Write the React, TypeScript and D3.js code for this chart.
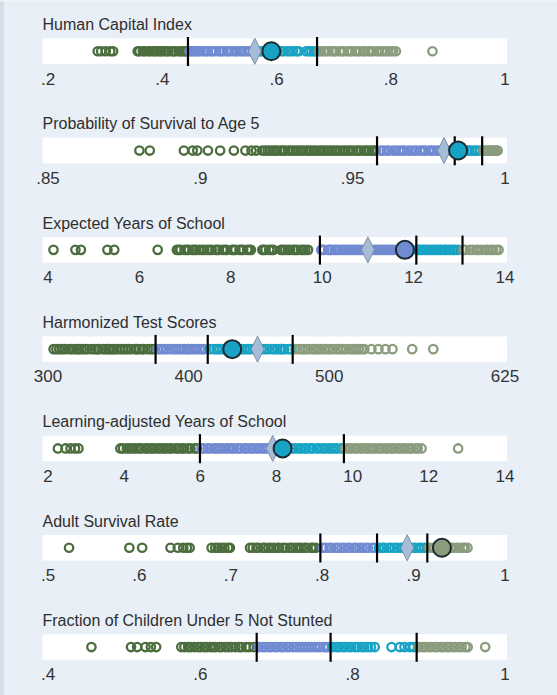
import * as d3 from "d3";

// colour groups: below Q1, Q1-median, median-Q3, above Q3
const GROUP_COLORS = ["#4c6e3e", "#718bd2", "#18a3c4", "#8a9c7d"];

const titles = [
  "Human Capital Index",
  "Probability of Survival to Age 5",
  "Expected Years of School",
  "Harmonized Test Scores",
  "Learning-adjusted Years of School",
  "Adult Survival Rate",
  "Fraction of Children Under 5 Not Stunted",
];

const domains = [
  [0.2, 1],
  [0.85, 1],
  [4, 14],
  [300, 625],
  [2, 14],
  [0.5, 1],
  [0.4, 1],
];

const tickValues = [
  [0.2, 0.4, 0.6, 0.8, 1],
  [0.85, 0.9, 0.95, 1],
  [4, 6, 8, 10, 12, 14],
  [300, 400, 500, 625],
  [2, 4, 6, 8, 10, 12, 14],
  [0.5, 0.6, 0.7, 0.8, 0.9, 1],
  [0.4, 0.6, 0.8, 1],
];

const tickLabels = [
  [".2", ".4", ".6", ".8", "1"],
  [".85", ".9", ".95", "1"],
  ["4", "6", "8", "10", "12", "14"],
  ["300", "400", "500", "625"],
  ["2", "4", "6", "8", "10", "12", "14"],
  [".5", ".6", ".7", ".8", ".9", "1"],
  [".4", ".6", ".8", "1"],
];

const hci = [
  0.287, 0.293, 0.301, 0.309, 0.314,
  0.357, 0.36, 0.366, 0.369, 0.375, 0.378, 0.384, 0.387, 0.391, 0.396, 0.399, 0.404,
  0.408, 0.411, 0.417, 0.42, 0.423, 0.429, 0.432, 0.436, 0.439, 0.442,
  0.448, 0.451, 0.456, 0.459, 0.463, 0.467, 0.473, 0.476, 0.48, 0.486, 0.489, 0.494,
  0.5, 0.503, 0.507, 0.513, 0.516, 0.521, 0.527, 0.53, 0.536, 0.539, 0.544, 0.549, 0.553,
  0.56, 0.564, 0.571, 0.574, 0.579, 0.585, 0.591, 0.596, 0.601, 0.608, 0.612, 0.619,
  0.623, 0.629, 0.635, 0.639, 0.652, 0.657, 0.661, 0.666, 0.669,
  0.674, 0.677, 0.683, 0.686, 0.691, 0.697, 0.7, 0.704, 0.711, 0.714, 0.718, 0.725,
  0.728, 0.732, 0.738, 0.742, 0.746, 0.752, 0.755, 0.761, 0.765, 0.769, 0.776, 0.779,
  0.785, 0.79, 0.794, 0.8, 0.804, 0.809, 0.873,
];

const survival5 = [
  0.88, 0.8834, 0.8946, 0.8975, 0.899, 0.9025, 0.9065, 0.911, 0.9148, 0.9168, 0.9183,
  0.9203, 0.9212, 0.9221, 0.9228, 0.9237, 0.9246, 0.9252, 0.9263, 0.9271, 0.9278,
  0.9289, 0.9296, 0.9305, 0.9314, 0.9322, 0.9331, 0.9338, 0.9349, 0.9356, 0.9364,
  0.9373, 0.9381, 0.9392, 0.9398, 0.9407, 0.9415, 0.9424, 0.9433, 0.9441, 0.9449,
  0.9457, 0.9468, 0.9476, 0.9486, 0.9493, 0.9502, 0.9513, 0.9519, 0.9527, 0.9538,
  0.9546, 0.9553, 0.9562, 0.9569, 0.9575,
  0.9592, 0.9601, 0.9612, 0.9619, 0.9633, 0.9641, 0.9652, 0.9663, 0.9669, 0.9682,
  0.9691, 0.9702, 0.9709, 0.9722, 0.9731, 0.9738, 0.9751, 0.9759, 0.9768, 0.9779,
  0.9787, 0.9796, 0.9806, 0.9813, 0.9824, 0.9831,
  0.9841, 0.9849, 0.9858, 0.9865, 0.9876, 0.9883, 0.9891, 0.99, 0.9907, 0.9918,
  0.9929, 0.9934, 0.9941, 0.9946, 0.9953, 0.9957, 0.9963, 0.9967, 0.9972, 0.9976,
];

const schoolYears = [
  4.12, 4.6, 4.72, 5.3, 5.45, 6.4,
  6.82, 6.86, 6.9, 6.99, 7.04, 7.08, 7.16, 7.2, 7.24, 7.31, 7.37, 7.42, 7.49, 7.54,
  7.58, 7.67, 7.7, 7.74, 7.82, 7.87, 7.91, 8.03, 8.06, 8.1, 8.19, 8.23, 8.27, 8.36,
  8.4, 8.44, 8.69, 8.72, 8.76, 8.84, 8.89, 8.93, 9.1, 9.14, 9.19, 9.25, 9.3, 9.37,
  9.41, 9.46, 9.54, 9.58, 9.63, 9.69,
  9.98, 10.01, 10.04, 10.13, 10.17, 10.2, 10.27, 10.31, 10.36, 10.42, 10.47, 10.51,
  10.57, 10.62, 10.66, 10.72, 10.77, 10.81, 10.87, 10.92, 10.96, 11.02, 11.06, 11.11,
  11.17, 11.22, 11.26, 11.32, 11.36, 11.41, 11.46, 11.5, 11.55, 11.62, 11.66, 11.71,
  12.08, 12.12, 12.16, 12.21, 12.26, 12.3, 12.37, 12.42, 12.46, 12.51, 12.56, 12.6,
  12.67, 12.71, 12.76, 12.81, 12.86, 12.9, 12.97,
  13.09, 13.14, 13.23, 13.29, 13.37, 13.42, 13.49, 13.57, 13.62, 13.69, 13.74, 13.81, 13.86,
];

const testScores = [
  304, 306, 308, 310, 312, 315, 317, 319, 321, 322, 324, 326, 328, 331, 333, 335,
  336, 339, 341, 343, 344, 346, 347, 349, 351, 353, 355, 357, 359, 362, 363, 365,
  367, 368, 371, 373, 375,
  378, 380, 382, 384, 387, 389, 391, 393, 395, 397, 399, 400, 402, 404, 406, 408, 410, 411,
  415, 418, 420, 422, 424, 426, 428, 431, 434, 436, 438, 440, 442, 444, 447, 450,
  452, 454, 456, 459, 461, 463, 465, 466, 468, 471, 473,
  476, 479, 481, 483, 485, 488, 490, 492, 494, 497, 499, 501, 503, 506, 508, 510,
  512, 515, 517, 519, 521, 523, 525, 530, 535, 540, 545, 559, 574,
];

const learningYears = [
  2.26, 2.46, 2.59, 2.71, 2.8,
  3.9, 3.97, 4.07, 4.14, 4.23, 4.3, 4.39, 4.45, 4.56, 4.62, 4.71, 4.77, 4.87, 4.94,
  5.03, 5.1, 5.19, 5.25, 5.36, 5.42, 5.51, 5.57, 5.67, 5.74, 5.85, 5.91,
  6.03, 6.09, 6.19, 6.25, 6.36, 6.42, 6.51, 6.57, 6.67, 6.74, 6.83, 6.89, 6.99, 7.05,
  7.16, 7.21, 7.31, 7.37, 7.47, 7.54, 7.63, 7.69, 7.78,
  8.1, 8.21, 8.29, 8.4, 8.47, 8.57, 8.64, 8.73, 8.79, 8.89, 8.95, 9.06, 9.11, 9.21,
  9.27, 9.37, 9.44, 9.53, 9.59, 9.7,
  9.8, 9.89, 9.95, 10.06, 10.11, 10.21, 10.27, 10.37, 10.44, 10.53, 10.59, 10.69,
  10.75, 10.86, 10.91, 11.01, 11.07, 11.17, 11.24, 11.33, 11.39, 11.49, 11.55,
  11.66, 11.71, 11.81, 12.77,
];

const adultSurvival = [
  0.523, 0.589, 0.603, 0.634, 0.642, 0.648, 0.652, 0.655, 0.679, 0.683, 0.686,
  0.69, 0.693, 0.697, 0.699,
  0.721, 0.724, 0.728, 0.73, 0.735, 0.737, 0.741, 0.744, 0.747, 0.751, 0.753,
  0.757, 0.76, 0.765, 0.767, 0.771, 0.774, 0.777, 0.781, 0.783, 0.788, 0.79, 0.793,
  0.801, 0.804, 0.808, 0.81, 0.815, 0.817, 0.821, 0.824, 0.828, 0.83, 0.835, 0.837,
  0.841, 0.844, 0.848, 0.85, 0.855, 0.857,
  0.862, 0.866, 0.868, 0.873, 0.875, 0.879, 0.882, 0.886, 0.888, 0.893, 0.895,
  0.899, 0.902, 0.906, 0.908, 0.912,
  0.917, 0.921, 0.923, 0.927, 0.93, 0.934, 0.936, 0.941, 0.943, 0.947, 0.95,
  0.954, 0.956, 0.959,
];

const notStunted = [
  0.457, 0.509, 0.517, 0.528, 0.535, 0.542,
  0.575, 0.579, 0.584, 0.587, 0.592, 0.597, 0.6, 0.605, 0.608, 0.613, 0.617, 0.62,
  0.625, 0.628, 0.633, 0.637, 0.641, 0.646, 0.651, 0.654, 0.66, 0.664, 0.67,
  0.677, 0.682, 0.685, 0.69, 0.693, 0.698, 0.701, 0.706, 0.709, 0.714, 0.717,
  0.722, 0.726, 0.73, 0.734, 0.738, 0.742, 0.746, 0.75, 0.754, 0.757, 0.762, 0.765,
  0.768,
  0.774, 0.779, 0.782, 0.787, 0.79, 0.795, 0.798, 0.803, 0.807, 0.812, 0.815,
  0.82, 0.824, 0.829, 0.851, 0.862, 0.868, 0.875, 0.88,
  0.887, 0.892, 0.895, 0.9, 0.903, 0.908, 0.911, 0.916, 0.919, 0.924, 0.927, 0.932,
  0.935, 0.94, 0.943, 0.948, 0.951, 0.974,
];

const seriesValues = [hci, survival5, schoolYears, testScores, learningYears, adultSurvival, notStunted];

// boundaries between the colour groups
const groupCuts = [
  [0.445, 0.557, 0.671],
  [0.958, 0.9835, 0.9925],
  [9.9, 12.0, 13.05],
  [376, 413.6, 474],
  [5.99, 8.0, 9.77],
  [0.798, 0.86, 0.915],
  [0.674, 0.771, 0.884],
];

// black marker lines that are visible in the picture
const markerLines = [
  [0.445, 0.671],
  [0.958, 0.9835, 0.9925],
  [9.95, 12.06, 13.07],
  [376.5, 413.6, 474],
  [5.99, 9.77],
  [0.798, 0.86, 0.915],
  [0.674, 0.771, 0.884],
];

const averages = [0.562, 0.98, 11.0, 449, 7.9, 0.893, null];
const countryValues = [0.591, 0.9846, 11.81, 431, 8.16, 0.931, null];

const WIDTH = 557;
const HEIGHT = 695;
const RANGE = [48, 505];
const BAND = { left: 42.5, right: 507, top: 38.5, height: 25.5, pitch: 99.3 };
const FONT = "'Liberation Sans', Arial, sans-serif";

function groupColor(v: number, cuts: number[]) {
  const i = d3.bisectRight(cuts, v);
  return GROUP_COLORS[i];
}

function Strip({ index }: { index: number }) {
  const x = d3.scaleLinear().domain(domains[index]).range(RANGE);
  const top = BAND.top + index * BAND.pitch;
  const cy = top + BAND.height / 2;
  const cuts = groupCuts[index];
  const avg = averages[index];
  const country = countryValues[index];
  const dh = 13;
  const dw = 6.5;

  return (
    <g>
      <text x={BAND.left} y={top - 8.5} fontSize={16} fill="#2e2e2e" fontFamily={FONT}>
        {titles[index]}
      </text>
      <rect x={BAND.left} y={top} width={BAND.right - BAND.left} height={BAND.height} fill="#ffffff" />
      {seriesValues[index].map((v, i) => (
        <circle
          key={i}
          cx={x(v)}
          cy={cy}
          r={4.2}
          fill="none"
          stroke={groupColor(v, cuts)}
          strokeWidth={2.3}
        />
      ))}
      {markerLines[index].map((v, i) => (
        <line
          key={i}
          x1={x(v)}
          x2={x(v)}
          y1={top - 1.5}
          y2={top + BAND.height + 2}
          stroke="#000"
          strokeWidth={2.2}
        />
      ))}
      {avg !== null && (
        <path
          d={`M${x(avg)},${cy - dh} L${x(avg) + dw},${cy} L${x(avg)},${cy + dh} L${x(avg) - dw},${cy} Z`}
          fill="#a5bdd9"
          stroke="#7d8fa3"
          strokeWidth={1}
        />
      )}
      {country !== null && (
        <circle
          cx={x(country)}
          cy={cy}
          r={9}
          fill={groupColor(country, cuts)}
          stroke="#1b2a33"
          strokeWidth={2}
        />
      )}
      {tickValues[index].map((t, i) => (
        <text
          key={i}
          x={x(t)}
          y={top + BAND.height + 20.5}
          textAnchor="middle"
          fontSize={17}
          fill="#333"
          fontFamily={FONT}
        >
          {tickLabels[index][i]}
        </text>
      ))}
    </g>
  );
}

export default function App() {
  return (
    <div>
      <style>{`body{margin:0}`}</style>
      <svg width={WIDTH} height={HEIGHT} style={{ display: "block" }}>
        <rect x={0} y={0} width={WIDTH} height={HEIGHT} fill="#e8eff7" />
        <rect x={0} y={0} width={4} height={HEIGHT} fill="#d4dfec" />
        <rect x={0} y={0} width={WIDTH} height={1.5} fill="#f0f4f9" />
        {titles.map((_, i) => (
          <Strip key={i} index={i} />
        ))}
      </svg>
    </div>
  );
}
